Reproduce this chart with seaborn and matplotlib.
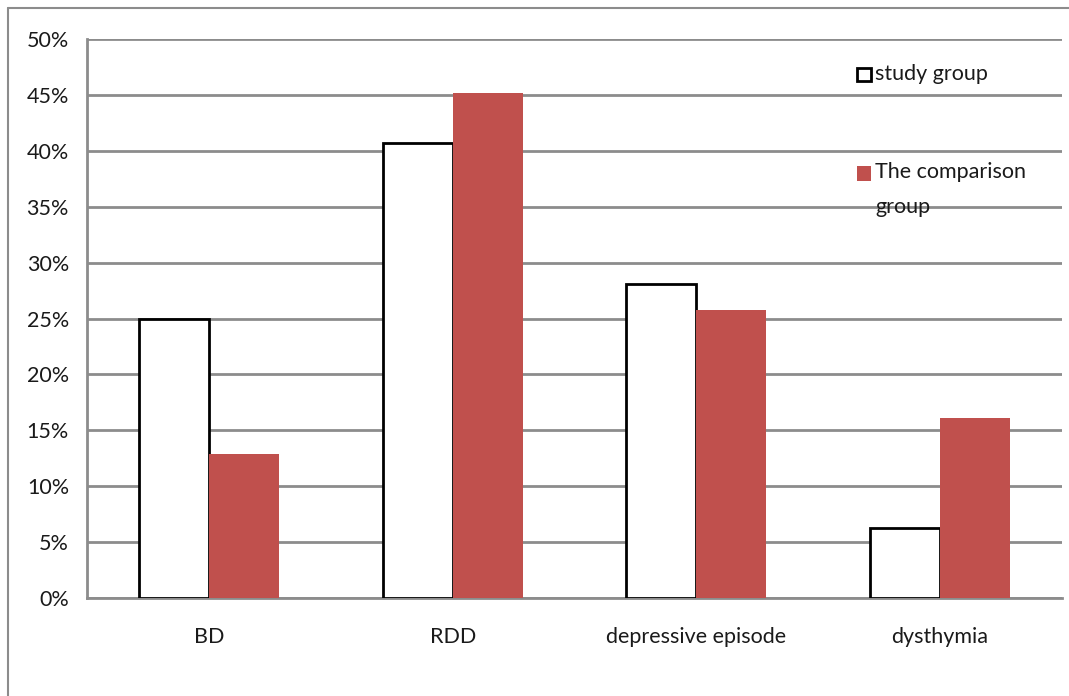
import numpy as np
import pandas as pd
import seaborn as sns
import matplotlib.pyplot as plt
from matplotlib.patches import Rectangle
from matplotlib.lines import Line2D
from matplotlib.ticker import PercentFormatter

# values (percent)
categories = ['BD', 'RDD', 'depressive episode', 'dysthymia']
study_group = [25.0, 40.7, 28.1, 6.3]
comparison_group = [12.9, 45.2, 25.8, 16.1]
groups = ['study group', 'The comparison group']

df = pd.DataFrame({
    'category': categories * 2,
    'value': study_group + comparison_group,
    'group': [groups[0]] * 4 + [groups[1]] * 4,
})

sns.set_style('white')
plt.rcParams['font.family'] = ['Lato', 'DejaVu Sans']

W, H = 1069, 696
fig = plt.figure(figsize=(W / 100, H / 100), dpi=100)
ax = fig.add_axes([87 / W, 1 - 598 / H, (1062 - 87) / W, (598 - 39) / H])

grid_col = '#8c8c8c'
red = '#c0504d'
fs = 15.5
sns.barplot(data=df, x='category', y='value', hue='group', hue_order=groups,
            palette=['white', red], width=0.574, ax=ax, legend=False,
            saturation=1, zorder=3)

# outline on the study group bars only
for bar in ax.patches[:4]:
    bar.set_edgecolor('black')
    bar.set_linewidth(2)
for bar in ax.patches[4:8]:
    bar.set_edgecolor('none')

ax.set_ylim(0, 50)
ax.set_xlim(-0.5, 3.5)
ax.set_yticks(np.arange(0, 51, 5))
ax.yaxis.set_major_formatter(PercentFormatter(decimals=0))
ax.yaxis.grid(True, color=grid_col, linewidth=2, zorder=0)
ax.set_axisbelow(True)
ax.set_xlabel('')
ax.set_ylabel('')

for side in ['top', 'right']:
    ax.spines[side].set_visible(False)
for side in ['left', 'bottom']:
    ax.spines[side].set_color(grid_col)
    ax.spines[side].set_linewidth(2)

# x ticks at category boundaries, labels centred
ax.set_xticks([-0.5, 0.5, 1.5, 2.5, 3.5])
ax.set_xticklabels([])
ax.set_xticks(range(4), minor=True)
ax.set_xticklabels(categories, minor=True, fontsize=fs, color='#1a1a1a')
ax.tick_params(axis='x', which='major', length=8, width=2, color=grid_col, direction='out')
ax.tick_params(axis='x', which='minor', length=0, pad=21)
ax.tick_params(axis='y', length=8, width=2, color=grid_col, direction='out',
               labelsize=fs, labelcolor='#1a1a1a', pad=5)

# legend drawn by hand (pixel positions, top-left origin)
def px(x, y):
    return x / W, 1 - y / H

fig.patches.append(Rectangle(px(857, 81), 14 / W, 13 / H, transform=fig.transFigure,
                             facecolor='white', edgecolor='black', linewidth=2))
fig.patches.append(Rectangle(px(857, 181), 14 / W, 15 / H, transform=fig.transFigure,
                             facecolor=red, edgecolor='none'))
fig.text(*px(875, 74), 'study group', fontsize=fs, va='center', color='#1a1a1a')
fig.text(*px(875, 172), 'The comparison', fontsize=fs, va='center', color='#1a1a1a')
fig.text(*px(875, 207), 'group', fontsize=fs, va='center', color='#1a1a1a')

# outer chart border (left and top edges visible)
fig.add_artist(Line2D([8 / W, 8 / W], [0, 1 - 8 / H], transform=fig.transFigure,
                      color=grid_col, linewidth=1.5))
fig.add_artist(Line2D([8 / W, 1], [1 - 8 / H, 1 - 8 / H], transform=fig.transFigure,
                      color=grid_col, linewidth=1.5))

fig.savefig('out.png', dpi=100)
